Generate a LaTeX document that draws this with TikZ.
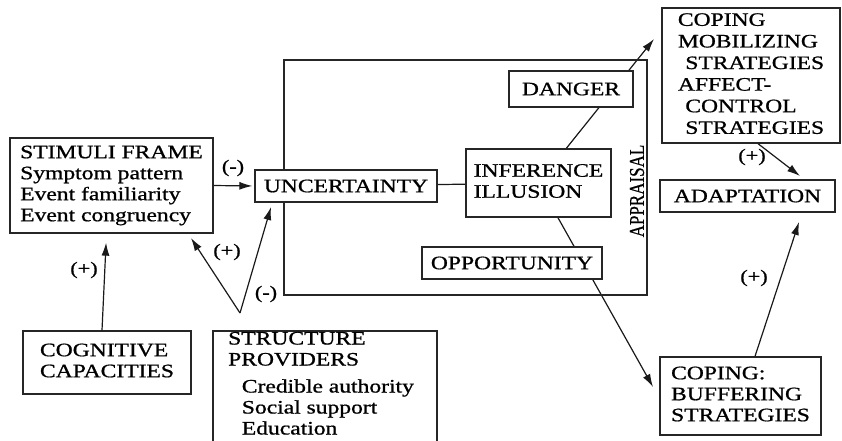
\documentclass[tikz,border=0pt]{standalone}
\usepackage{fontspec}
\setmainfont{Liberation Serif}[FakeBold=0.8]
\usepackage{graphicx}
\usetikzlibrary{arrows.meta,backgrounds,calc}
\newcommand{\wx}[1]{\scalebox{1.24}[1]{#1}}
\newcommand{\tlines}[1]{\wx{\begin{tabular}{@{}l@{}}#1\end{tabular}}}
\begin{document}
\begin{tikzpicture}[x=1pt,y=-1pt,
  bx/.style={draw=black!85, line width=1.3pt, fill=white, inner sep=0pt, font=\fontsize{19}{21}\selectfont},
  tx/.style={inner sep=0pt, font=\fontsize{19}{21}\selectfont},
  ln/.style={line width=1.2pt, black!90},
  arr/.style={ln, -{Latex[length=13pt,width=8pt]}},
  lab/.style={inner sep=0pt, font=\fontsize{18}{20}\selectfont}]
\useasboundingbox (0,0) rectangle (842,440);
% appraisal frame
\node[draw=black!85, line width=1.3pt, inner sep=0pt, minimum width=363pt, minimum height=235pt] (appr) at (465.5,177.5) {};
\node[tx, font=\fontsize{17}{19}\selectfont] (applab) at (637,191) {\wx{\rotatebox{90}{APPRAISAL}}};
% boxes
\node[bx, minimum width=203pt, minimum height=95pt] (stim) at (111.5,185.5)
  {\tlines{STIMULI FRAME\\Symptom pattern\\Event familiarity\\Event congruency}};
\node[bx, minimum width=182pt, minimum height=32pt] (unc) at (346,186) {\wx{UNCERTAINTY}};
\node[bx, minimum width=124pt, minimum height=36pt] (danger) at (571,89) {\wx{DANGER}};
\node[bx, minimum width=145pt, minimum height=68pt] (infer) at (538.5,183) {\tlines{INFERENCE\\ILLUSION}};
\node[bx, minimum width=180pt, minimum height=32pt] (opp) at (512,263) {\wx{OPPORTUNITY}};
\node[bx, font=\fontsize{19}{21.6}\selectfont, minimum width=178pt, minimum height=135pt] (mob) at (751,75.5)
  {\tlines{COPING\\MOBILIZING\\\hspace{6pt}STRATEGIES\\AFFECT-\\\hspace{6pt}CONTROL\\\hspace{6pt}STRATEGIES}};
\node[bx, minimum width=175pt, minimum height=32pt] (adapt) at (747.5,196) {\wx{ADAPTATION}};
\node[bx, minimum width=168pt, minimum height=63pt] (cog) at (107,362.5) {\tlines{COGNITIVE\\CAPACITIES}};
\node[bx, minimum width=224pt, minimum height=114pt] (struct) at (325,388) {};
\node[tx, anchor=north west] (structt) at (228,329.6)
  {\tlines{STRUCTURE\\PROVIDERS\\[6pt]\hspace{11pt}Credible authority\\\hspace{11pt}Social support\\\hspace{11pt}Education}};
\node[bx, minimum width=161pt, minimum height=78pt] (buf) at (740.5,396) {\tlines{COPING:\\BUFFERING\\STRATEGIES}};
% free ends
\coordinate (fork) at (240,313);
\coordinate (stimtip) at (191,238);
\coordinate (unctip) at (271,207);
\coordinate (mobtip) at (654,39);
\coordinate (buftip) at (653,387);
\coordinate (adtipA) at (800,176);
\coordinate (adtipB) at (799,222);
% connectors behind the boxes
\begin{scope}[on background layer]
  \draw[ln] (unc) -- (infer);
  \draw[arr] (infer) -- (mobtip);
  \draw[arr] (infer) -- (buftip);
\end{scope}
\draw[arr, shorten >=2pt] (stim.east) -- (unc.west);
\draw[arr, shorten >=9pt] ([xshift=-5pt]cog.north) -- ([xshift=-5pt]stim.south);
\draw[arr] (fork) -- (stimtip);
\draw[arr] (fork) -- (unctip);
\draw[arr] ([xshift=7pt]mob.south) -- (adtipA);
\draw[arr] ([xshift=14.5pt]buf.north) -- (adtipB);
% labels
\node[lab] (l1) at (233,168) {\wx{(-)}};
\node[lab] (l2) at (84,270) {\wx{(+)}};
\node[lab] (l3) at (227,252) {\wx{(+)}};
\node[lab] (l4) at (266,294) {\wx{(-)}};
\node[lab] (l5) at (752,157) {\wx{(+)}};
\node[lab] (l6) at (754,278) {\wx{(+)}};
\end{tikzpicture}
\end{document}
